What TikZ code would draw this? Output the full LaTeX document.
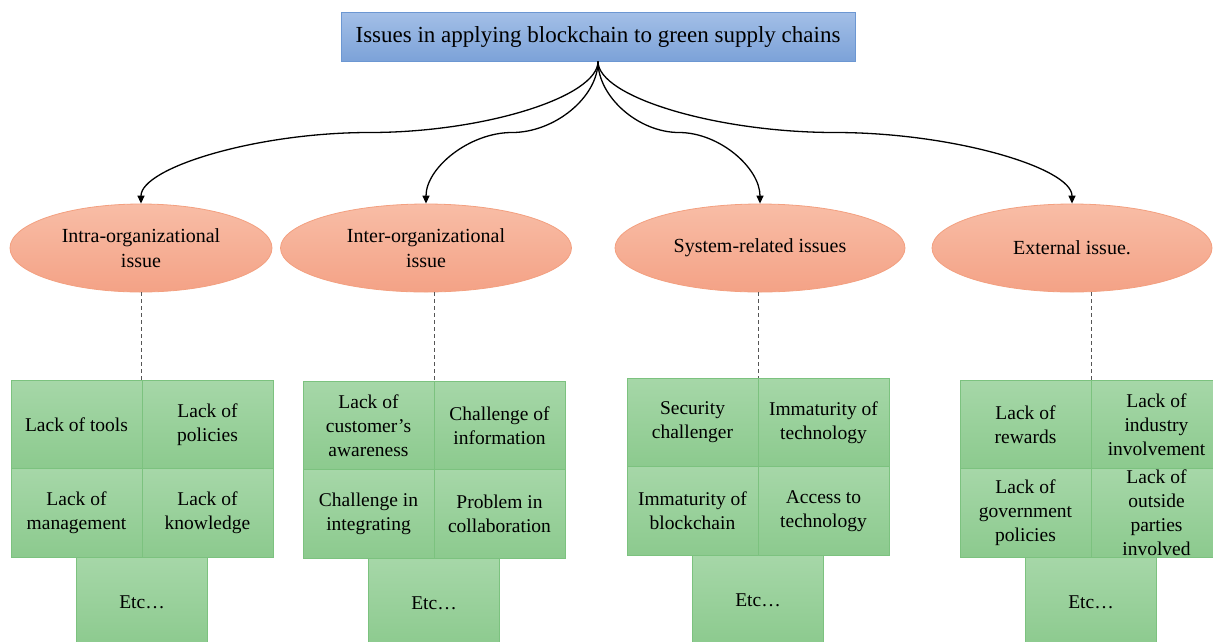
\documentclass[tikz,border=0pt]{standalone}
\usepackage{fontspec}
\setmainfont{Liberation Serif}
\usetikzlibrary{shapes.geometric,calc,arrows.meta}
\definecolor{bluetop}{HTML}{A3BFE7}
\definecolor{bluebot}{HTML}{7CA2D8}
\definecolor{blueedge}{HTML}{6C97D2}
\definecolor{orgtop}{HTML}{F8BDA6}
\definecolor{orgbot}{HTML}{F4A286}
\definecolor{orgedge}{HTML}{F3A080}
\definecolor{grntop}{HTML}{A6D7A8}
\definecolor{grnbot}{HTML}{8CCA8E}
\definecolor{grnedge}{HTML}{7CC27F}
\definecolor{dashgray}{HTML}{555555}
\tikzset{
  topbox/.style={rectangle, draw=blueedge, line width=0.8pt, top color=bluetop, bottom color=bluebot,
    minimum width=514pt, minimum height=49pt, inner sep=0pt, font=\fontsize{23}{27}\selectfont},
  ellnode/.style={ellipse, draw=orgedge, line width=0.8pt, top color=orgtop, bottom color=orgbot,
    minimum height=88pt, inner sep=0pt, align=center, font=\fontsize{20}{25}\selectfont},
  cellbox/.style={rectangle, draw=grnedge, line width=0.8pt, top color=grntop, bottom color=grnbot,
    minimum width=131pt, minimum height=88.5pt, inner sep=0pt, align=center,
    font=\fontsize{19.5}{24}\selectfont},
  etcbox/.style={cellbox, minimum height=90pt},
  conn/.style={line width=1.3pt, -{Triangle[length=8pt,width=7pt]}},
  dashline/.style={dashgray, line width=1pt, dash pattern=on 4pt off 3pt}
}
\newcommand\curvconn[2]{%
  \coordinate (q1) at ($(#1)!0.25!(#2)$);
  \coordinate (q2) at ($(#1)!0.5!(#2)$);
  \coordinate (q3) at ($(#1)!0.75!(#2)$);
  \draw[conn] (#1) .. controls (#1 |- q1) and (q1 |- q2) .. (q2)
                   .. controls (q3 |- q2) and (#2 |- q3) .. (#2);
}
% #1 name, #2 left, #3 top, #4..#8 texts
\newcommand\gridblock[8]{%
  \node[cellbox] (#1a) at (#2+65.5,#3+44.25) {#4};
  \node[cellbox] (#1b) at (#2+196.5,#3+44.25) {#5};
  \node[cellbox] (#1c) at (#2+65.5,#3+132.75) {#6};
  \node[cellbox] (#1d) at (#2+196.5,#3+132.75) {#7};
  \node[etcbox] (#1e) at (#2+131,#3+222) {#8};
}
\begin{document}
\begin{tikzpicture}[x=1pt,y=-1pt]
\useasboundingbox (0,0) rectangle (1213,641);
\clip (0,0) rectangle (1213,641);
\fill[white] (0,0) rectangle (1213,641);

\node[topbox] (top) at (598,36.5) {Issues in applying blockchain to green supply chains};

\node[ellnode, minimum width=262pt] (e1) at (141,248) {Intra-organizational\\issue};
\node[ellnode, minimum width=291pt] (e2) at (426,248) {Inter-organizational\\issue};
\node[ellnode, minimum width=290pt] (e3) at (760,248) {System-related issues};
\node[ellnode, minimum width=280pt] (e4) at (1072,248) {External issue.};

\curvconn{top.south}{e1.north}
\curvconn{top.south}{e2.north}
\curvconn{top.south}{e3.north}
\curvconn{top.south}{e4.north}

\gridblock{g1}{11}{380}{Lack of tools}{Lack of\\policies}{Lack of\\management}{Lack of\\knowledge}{Etc…}
\gridblock{g2}{303}{381}{Lack of\\customer’s\\awareness}{Challenge of\\information}{Challenge in\\integrating}{Problem in\\collaboration}{Etc…}
\gridblock{g3}{627}{378}{Security\\challenger}{Immaturity of\\technology}{Immaturity of\\blockchain}{Access to\\technology}{Etc…}
\gridblock{g4}{960}{380}{Lack of\\rewards}{Lack of\\industry\\involvement}{Lack of\\government\\policies}{Lack of\\outside\\parties\\involved}{Etc…}

\draw[dashline] (e1.south) -- (e1.south |- g1a.north);
\draw[dashline] (g2a.north east |- e2.south) -- (g2a.north east);
\draw[dashline] (g3a.north east |- e3.south) -- (g3a.north east);
\draw[dashline] (g4a.north east |- e4.south) -- (g4a.north east);
\end{tikzpicture}
\end{document}
